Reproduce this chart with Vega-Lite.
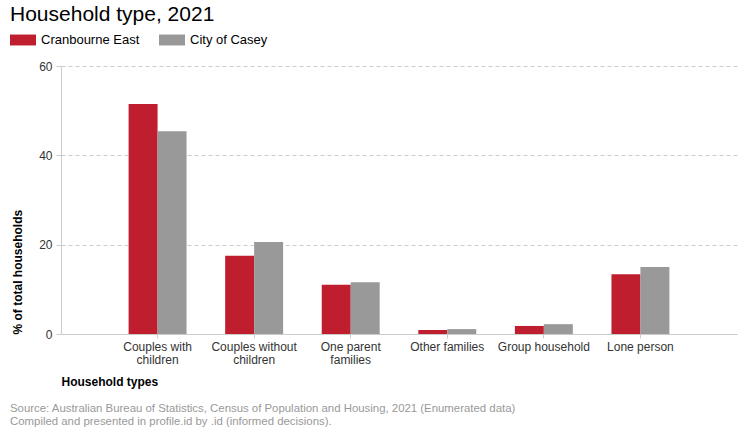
{
  "$schema": "https://vega.github.io/schema/vega-lite/v6.json",
  "width": 676,
  "height": 268,
  "autosize": {"type": "none"},
  "padding": {"left": 61, "top": 66, "right": 3, "bottom": 106},
  "background": "white",
  "config": {"font": "Liberation Sans", "view": {"stroke": null}},
  "title": {
    "text": ["Source: Australian Bureau of Statistics, Census of Population and Housing, 2021 (Enumerated data)", "Compiled and presented in profile.id by .id (informed decisions)."],
    "orient": "bottom",
    "anchor": "start",
    "frame": "group",
    "dx": -51,
    "offset": 16,
    "fontSize": 11.4,
    "fontWeight": "normal",
    "color": "#999999",
    "lineHeight": 13,
    "font": "Liberation Sans"
  },
  "data": {
    "values": [
      {"type": "Couples with children", "area": "Cranbourne East", "pct": 51.5},
      {"type": "Couples with children", "area": "City of Casey", "pct": 45.4},
      {"type": "Couples without children", "area": "Cranbourne East", "pct": 17.5},
      {"type": "Couples without children", "area": "City of Casey", "pct": 20.6},
      {"type": "One parent families", "area": "Cranbourne East", "pct": 11.0},
      {"type": "One parent families", "area": "City of Casey", "pct": 11.6},
      {"type": "Other families", "area": "Cranbourne East", "pct": 0.9},
      {"type": "Other families", "area": "City of Casey", "pct": 1.1},
      {"type": "Group household", "area": "Cranbourne East", "pct": 1.8},
      {"type": "Group household", "area": "City of Casey", "pct": 2.2},
      {"type": "Lone person", "area": "Cranbourne East", "pct": 13.4},
      {"type": "Lone person", "area": "City of Casey", "pct": 15.0}
    ]
  },
  "mark": {"type": "bar"},
  "encoding": {
    "x": {
      "field": "type",
      "type": "nominal",
      "sort": ["Couples with children", "Couples without children", "One parent families", "Other families", "Group household", "Lone person"],
      "scale": {"paddingInner": 0.4, "paddingOuter": 0.7},
      "axis": {
        "title": "Household types",
        "titleAnchor": "start",
        "titleFontSize": 12,
        "titleFontWeight": "bold",
        "titleColor": "#000000",
        "titlePadding": 11,
        "labelAngle": 0,
        "labelFontSize": 12,
        "labelColor": "#333333",
        "labelLineHeight": 13,
        "labelPadding": 3,
        "labelExpr": "datum.value == 'Couples with children' ? ['Couples with', 'children'] : datum.value == 'Couples without children' ? ['Couples without', 'children'] : datum.value == 'One parent families' ? ['One parent', 'families'] : datum.label",
        "domainColor": "#cccccc",
        "tickColor": "#cccccc",
        "tickSize": 4,
        "grid": false
      }
    },
    "xOffset": {
      "field": "area",
      "type": "nominal",
      "sort": ["Cranbourne East", "City of Casey"],
      "scale": {"paddingInner": 0, "paddingOuter": 0}
    },
    "y": {
      "field": "pct",
      "type": "quantitative",
      "scale": {"domain": [0, 60]},
      "axis": {
        "values": [0, 20, 40, 60],
        "grid": true,
        "gridDash": [4, 3],
        "gridColor": "#cccccc",
        "domain": true,
        "domainColor": "#cccccc",
        "tickColor": "#cccccc",
        "tickSize": 5,
        "labelPadding": 4,
        "labelFontSize": 12,
        "labelColor": "#333333",
        "title": "% of total households",
        "titleFontSize": 12,
        "titleFontWeight": "bold",
        "titleColor": "#000000",
        "titleAnchor": "start",
        "titlePadding": 14
      }
    },
    "color": {
      "field": "area",
      "type": "nominal",
      "sort": ["Cranbourne East", "City of Casey"],
      "scale": {"domain": ["Cranbourne East", "City of Casey"], "range": ["#BE1E2D", "#999999"]},
      "legend": {
        "orient": "none",
        "legendX": -51,
        "legendY": -62,
        "direction": "horizontal",
        "title": "Household type, 2021",
        "titleFontSize": 21,
        "titleFontWeight": "normal",
        "titleColor": "#000000",
        "titleLimit": 1000,
        "titlePadding": 2,
        "symbolType": "M-1,-0.42H1V0.42H-1Z",
        "symbolSize": 676,
        "symbolStrokeWidth": 0,
        "symbolOpacity": 1,
        "labelFontSize": 13,
        "labelColor": "#000000",
        "labelOffset": 5,
        "labelLimit": 300,
        "columnPadding": 19
      }
    }
  }
}
